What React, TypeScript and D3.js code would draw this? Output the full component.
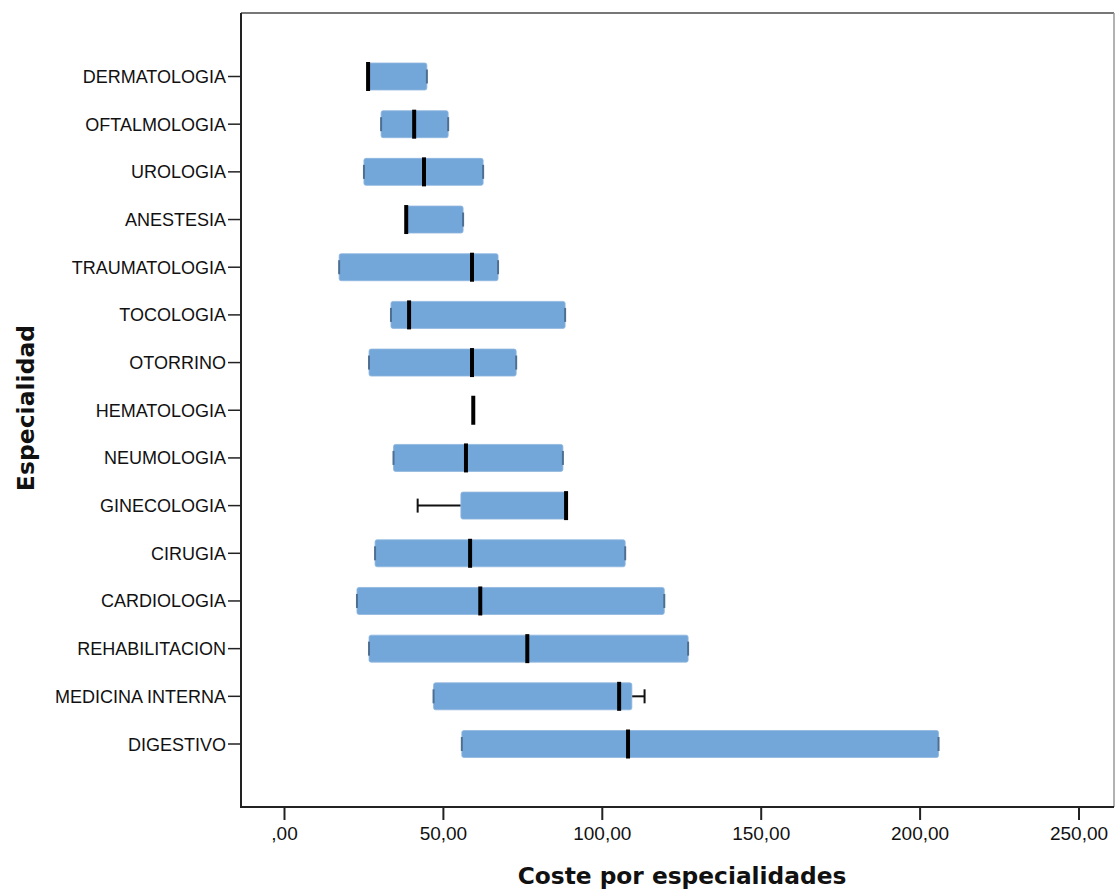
import React from "react";
import * as d3 from "d3";

const categories = [
  "DERMATOLOGIA", "OFTALMOLOGIA", "UROLOGIA", "ANESTESIA", "TRAUMATOLOGIA",
  "TOCOLOGIA", "OTORRINO", "HEMATOLOGIA", "NEUMOLOGIA", "GINECOLOGIA",
  "CIRUGIA", "CARDIOLOGIA", "REHABILITACION", "MEDICINA INTERNA", "DIGESTIVO",
];
const minValues = [26.3, 30.4, 25.0, 38.3, 17.2, 33.5, 26.6, 59.4, 34.3, 41.9, 28.5, 22.8, 26.6, 46.9, 55.8];
const q1Values = [26.3, 30.4, 25.0, 38.3, 17.2, 33.5, 26.6, 59.4, 34.3, 55.5, 28.5, 22.8, 26.6, 46.9, 55.8];
const medianValues = [26.3, 40.8, 43.9, 38.3, 59.0, 39.2, 59.0, 59.4, 57.1, 88.6, 58.4, 61.6, 76.4, 105.3, 108.1];
const q3Values = [44.8, 51.5, 62.5, 56.2, 67.2, 88.3, 72.9, 59.4, 87.6, 88.6, 107.2, 119.5, 127.0, 109.3, 205.8];
const maxValues = [44.8, 51.5, 62.5, 56.2, 67.2, 88.3, 72.9, 59.4, 87.6, 88.6, 107.2, 119.5, 127.0, 113.3, 205.8];
const xTicks = [0, 50, 100, 150, 200, 250];
const xTickLabels = [",00", "50,00", "100,00", "150,00", "200,00", "250,00"];

const W = 1116, H = 891;
const frame = { left: 241, top: 13, right: 1114, bottom: 807 };

export default function App() {
  const x = d3.scaleLinear().domain([0, 250]).range([284.5, 1079]);
  const y = d3.scalePoint<string>().domain(categories).range([76.5, 744]);
  const boxH = 27;
  const capH = 14;
  const boxColor = "#74a7d9";

  return (
    <svg width={W} height={H} style={{ position: "absolute", left: 0, top: 0, background: "#fff" }}
      fontFamily="'Liberation Sans', Arial, sans-serif">
      <rect x={0} y={0} width={W} height={H} fill="#fff" />
      {/* frame */}
      <line x1={frame.left} x2={frame.right} y1={frame.top} y2={frame.top} stroke="#777" strokeWidth={2} />
      <line x1={frame.right} x2={frame.right} y1={frame.top} y2={frame.bottom} stroke="#999" strokeWidth={1.5} />
      <line x1={frame.left} x2={frame.left} y1={frame.top} y2={frame.bottom} stroke="#222" strokeWidth={2} />
      <line x1={frame.left - 1} x2={frame.right} y1={frame.bottom} y2={frame.bottom} stroke="#222" strokeWidth={2} />

      {/* y axis ticks and labels */}
      {categories.map((c) => (
        <g key={c}>
          <line x1={228} x2={frame.left} y1={y(c)} y2={y(c)} stroke="#222" strokeWidth={1.5} />
          <text x={226} y={y(c)! + 6.5} textAnchor="end" fontSize={18} fill="#111">{c}</text>
        </g>
      ))}

      {/* x axis ticks and labels */}
      {xTicks.map((t, i) => (
        <g key={t}>
          <line x1={x(t)} x2={x(t)} y1={frame.bottom} y2={frame.bottom + 13} stroke="#222" strokeWidth={2} />
          <text x={x(t)} y={840} textAnchor="middle" fontSize={19} fill="#111">{xTickLabels[i]}</text>
        </g>
      ))}

      {/* boxes */}
      {categories.map((c, i) => {
        const cy = y(c)!;
        const mn = minValues[i], q1 = q1Values[i], md = medianValues[i], q3 = q3Values[i], mx = maxValues[i];
        const degenerate = q3 - q1 < 0.01;
        return (
          <g key={c}>
            {mn < q1 && <line x1={x(mn)} x2={x(q1)} y1={cy} y2={cy} stroke="#111" strokeWidth={2} />}
            {mx > q3 && <line x1={x(q3)} x2={x(mx)} y1={cy} y2={cy} stroke="#111" strokeWidth={2} />}
            {!degenerate && (
              <rect x={x(q1)} y={cy - boxH / 2} width={x(q3) - x(q1)} height={boxH}
                fill={boxColor} stroke="#8fb6de" strokeWidth={0.8} rx={2} />
            )}
            {!degenerate && (
              <>
                <line x1={x(mn)} x2={x(mn)} y1={cy - capH / 2} y2={cy + capH / 2}
                  stroke={mn < q1 ? "#111" : "#4d6f92"} strokeWidth={2} />
                <line x1={x(mx)} x2={x(mx)} y1={cy - capH / 2} y2={cy + capH / 2}
                  stroke={mx > q3 ? "#111" : "#4d6f92"} strokeWidth={2} />
              </>
            )}
            <line x1={x(md)} x2={x(md)} y1={cy - boxH / 2 - 1} y2={cy + boxH / 2 + 1} stroke="#000" strokeWidth={4} />
          </g>
        );
      })}

      {/* axis titles */}
      <text x={682} y={884} textAnchor="middle" fontSize={23.3} fontWeight="bold"
        fontFamily="'DejaVu Sans', Verdana, sans-serif" fill="#111">Coste por especialidades</text>
      <text transform={`translate(34, 408) rotate(-90)`} textAnchor="middle" fontSize={23.5} fontWeight="bold"
        fontFamily="'DejaVu Sans', Verdana, sans-serif" fill="#111">Especialidad</text>
    </svg>
  );
}
